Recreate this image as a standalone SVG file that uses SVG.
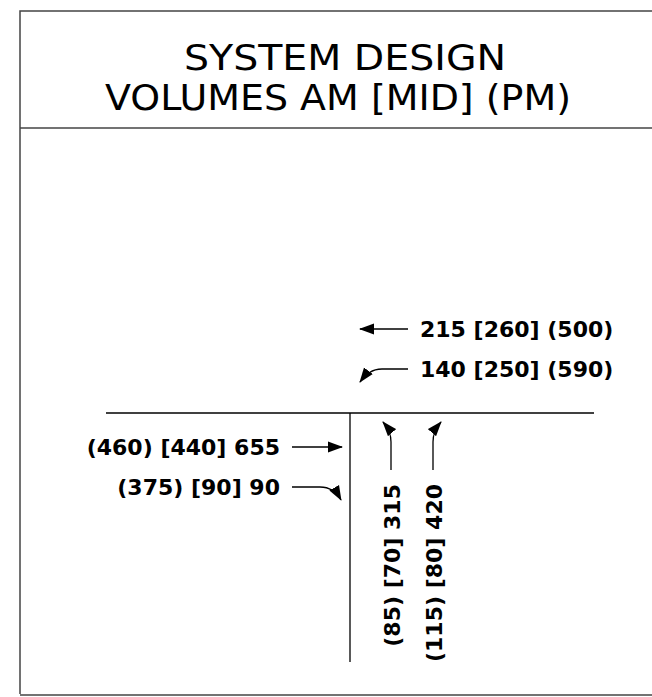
<svg xmlns="http://www.w3.org/2000/svg" width="652" height="697" viewBox="0 0 652 697">
<defs>
<style>
.ln{stroke:#000;stroke-width:1.3;fill:none}
.fr{stroke:#444;stroke-width:1.5;fill:none}
.ar{stroke:#000;stroke-width:1.3;fill:none;marker-end:url(#ah)}
.ttl{font-family:"DejaVu Sans","Liberation Sans",sans-serif;font-size:35px;fill:#000;text-anchor:middle}
.lb{font-family:"DejaVu Sans","Liberation Sans",sans-serif;font-size:22px;font-weight:bold;fill:#000}
</style>
<marker id="ah" markerUnits="userSpaceOnUse" markerWidth="15" markerHeight="12" refX="14" refY="5.5" orient="auto" viewBox="0 0 15 11">
<path d="M0,0 L15,5.5 L0,11 z" fill="#000"/>
</marker>
</defs>
<rect x="0" y="0" width="652" height="697" fill="#fff"/>
<g id="frame">
<path class="fr" d="M20,694 V11 H652"/>
<path class="fr" d="M20,695 H652"/>
<path class="fr" d="M20,128 H652"/>
</g>
<g id="title">
<text class="ttl" x="345" y="70" textLength="322" lengthAdjust="spacingAndGlyphs">SYSTEM DESIGN</text>
<text class="ttl" x="338" y="110" textLength="466" lengthAdjust="spacingAndGlyphs">VOLUMES AM [MID] (PM)</text>
</g>
<g id="roads">
<path class="ln" d="M106,413 H594"/>
<path class="ln" d="M350,413 V662"/>
</g>
<g id="connectors">
<path class="ar" d="M408,329 H360"/>
<path class="ar" d="M408,369 H382 C372,369 366,374 360,382"/>
<path class="ar" d="M292,447 H342"/>
<path class="ar" d="M292,487 H320 C330,487 336,491 341,500"/>
<path class="ar" d="M391,470 V442 C391,434 389,429 383,422"/>
<path class="ar" d="M433,470 V442 C433,434 435,429 441,422"/>
</g>
<g id="label-eb-thru">
<text class="lb" x="420" y="337">215 [260] (500)</text>
</g>
<g id="label-eb-right">
<text class="lb" x="420" y="377">140 [250] (590)</text>
</g>
<g id="label-wb-thru">
<text class="lb" x="280" y="455" text-anchor="end">(460) [440] 655</text>
</g>
<g id="label-wb-left">
<text class="lb" x="280" y="495" text-anchor="end">(375) [90] 90</text>
</g>
<g id="label-nb-left">
<text class="lb" transform="translate(400,484) rotate(-90)" text-anchor="end">(85) [70] 315</text>
</g>
<g id="label-nb-right">
<text class="lb" transform="translate(442,484) rotate(-90)" text-anchor="end">(115) [80] 420</text>
</g>
</svg>
